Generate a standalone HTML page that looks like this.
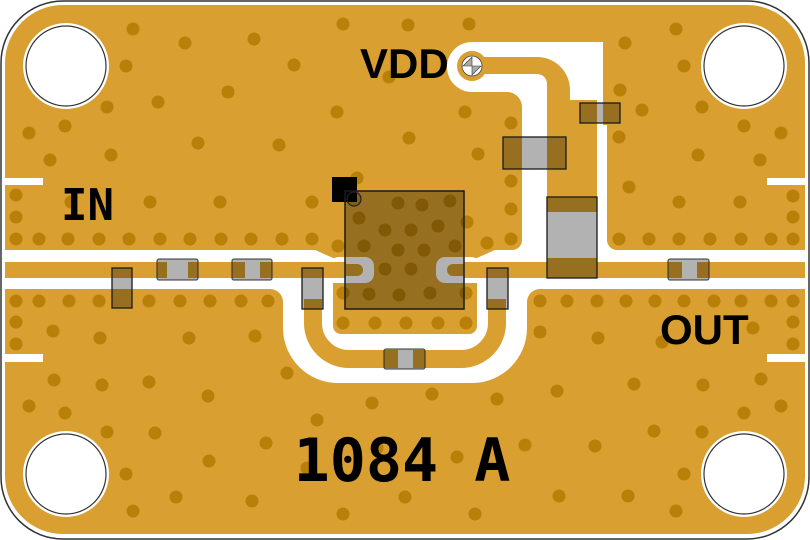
<!DOCTYPE html>
<html><head><meta charset="utf-8"><style>
html,body{margin:0;padding:0;background:#fff;}
svg{display:block;}
</style></head><body>
<svg width="810" height="540" viewBox="0 0 810 540" xmlns="http://www.w3.org/2000/svg">
<rect width="810" height="540" fill="#fff"/>
<!-- copper -->
<rect x="5" y="5" width="800" height="529" rx="58" fill="#D99F30"/>
<!-- band -->
<rect x="0" y="250" width="810" height="39" fill="#fff"/>
<!-- edge notches -->
<rect x="4" y="178" width="39" height="7" fill="#fff"/>
<rect x="4" y="354" width="39" height="8" fill="#fff"/>
<rect x="767" y="178" width="39" height="7" fill="#fff"/>
<rect x="767" y="354" width="39" height="8" fill="#fff"/>
<!-- VDD clearance -->
<path d="M472,42 H603 V125 H607 V240 A10 10 0 0 0 617 250 V252 H512 V250 A10 10 0 0 0 522 240 V107 A15 15 0 0 0 507 92 H472 A25 25 0 0 1 472 42 Z" fill="#fff"/>
<!-- central clearance -->
<path d="M270,278 V289 A13 13 0 0 1 283 302 V328 A55 55 0 0 0 338 383 H472 A55 55 0 0 0 527 328 V302 A13 13 0 0 1 540 289 V278 Z" fill="#fff"/>
<!-- gold near chip -->
<polygon points="306,248 313,249 333,258 477,258 497,249 504,248" fill="#D99F30"/>
<rect x="345" y="255" width="119" height="35" fill="#D99F30"/>
<rect x="333" y="283" width="144" height="51" rx="8" fill="#D99F30"/>
<rect x="333" y="283" width="144" height="20" fill="#D99F30"/>
<!-- pad clearances -->
<rect x="330" y="257" width="44" height="26" rx="9" fill="#fff"/>
<rect x="436" y="257" width="44" height="26" rx="9" fill="#fff"/>
<!-- RF line -->
<rect x="5" y="262" width="341" height="16" fill="#D99F30"/>
<rect x="338" y="264" width="25" height="12" rx="6" fill="#D99F30"/>
<rect x="464" y="262" width="341" height="16" fill="#D99F30"/>
<rect x="447" y="264" width="25" height="12" rx="6" fill="#D99F30"/>
<!-- U trace -->
<path d="M313,299 V323 A36 36 0 0 0 349 359 H461 A36 36 0 0 0 497 323 V299" fill="none" stroke="#D99F30" stroke-width="18"/>
<!-- VDD trace -->
<path d="M472,57 H537 A33 33 0 0 1 570 90 V100 H597 V212 H547 V84 A10 10 0 0 0 537 74 H472 Z" fill="#D99F30"/>
<rect x="547" y="258" width="50" height="20" fill="#D99F30"/>
<circle cx="472" cy="66" r="15" fill="#D99F30"/>
<circle cx="472" cy="66" r="10" fill="#fff" stroke="#444" stroke-width="0.8"/>
<polygon points="463,66 472,57 472,66" fill="#aaa" stroke="#333" stroke-width="0.6"/>
<polygon points="472,66 481,66 472,75" fill="#aaa" stroke="#333" stroke-width="0.6"/>
<!-- series gaps -->
<rect x="167" y="262" width="21" height="16" fill="#fff"/>
<rect x="245" y="262" width="15" height="16" fill="#fff"/>
<rect x="682" y="262" width="15" height="16" fill="#fff"/>
<rect x="398" y="349" width="15" height="20" fill="#fff"/>
<!-- vias -->
<g fill="#B98009">
<circle cx="133" cy="29" r="6.5"/><circle cx="185" cy="43" r="6.5"/><circle cx="254" cy="39" r="6.5"/><circle cx="126" cy="66" r="6.5"/><circle cx="228" cy="92" r="6.5"/><circle cx="158" cy="102" r="6.5"/><circle cx="107" cy="107" r="6.5"/><circle cx="65" cy="126" r="6.5"/><circle cx="29" cy="133" r="6.5"/><circle cx="198" cy="143" r="6.5"/><circle cx="111" cy="155" r="6.5"/><circle cx="50" cy="160" r="6.5"/><circle cx="16" cy="195" r="6.5"/><circle cx="71" cy="202" r="6.5"/><circle cx="150" cy="202" r="6.5"/><circle cx="220" cy="202" r="6.5"/><circle cx="16" cy="217" r="6.5"/>
<circle cx="16" cy="239" r="6.5"/><circle cx="39" cy="239" r="6.5"/><circle cx="68" cy="239" r="6.5"/><circle cx="99" cy="239" r="6.5"/><circle cx="129" cy="239" r="6.5"/><circle cx="160" cy="239" r="6.5"/><circle cx="190" cy="239" r="6.5"/><circle cx="221" cy="239" r="6.5"/><circle cx="251" cy="239" r="6.5"/>
<circle cx="343" cy="24" r="6.5"/><circle cx="408" cy="25" r="6.5"/><circle cx="469" cy="24" r="6.5"/><circle cx="294" cy="65" r="6.5"/><circle cx="389" cy="77" r="6.5"/><circle cx="337" cy="112" r="6.5"/><circle cx="465" cy="112" r="6.5"/><circle cx="409" cy="138" r="6.5"/><circle cx="279" cy="145" r="6.5"/><circle cx="511" cy="123" r="6.5"/><circle cx="478" cy="154" r="6.5"/><circle cx="357" cy="178" r="6.5"/><circle cx="312" cy="202" r="6.5"/><circle cx="511" cy="181" r="6.5"/><circle cx="511" cy="209" r="6.5"/><circle cx="467" cy="222" r="6.5"/><circle cx="282" cy="239" r="6.5"/><circle cx="312" cy="239" r="6.5"/><circle cx="338" cy="246" r="6.5"/><circle cx="487" cy="243" r="6.5"/><circle cx="511" cy="239" r="6.5"/>
<circle cx="398" cy="203" r="6.5"/><circle cx="422" cy="205" r="6.5"/><circle cx="450" cy="201" r="6.5"/><circle cx="359" cy="218" r="6.5"/><circle cx="385" cy="230" r="6.5"/><circle cx="411" cy="230" r="6.5"/><circle cx="438" cy="226" r="6.5"/><circle cx="364" cy="246" r="6.5"/><circle cx="398" cy="250" r="6.5"/><circle cx="424" cy="250" r="6.5"/><circle cx="455" cy="246" r="6.5"/><circle cx="385" cy="269" r="6.5"/><circle cx="411" cy="269" r="6.5"/><circle cx="343" cy="293" r="6.5"/><circle cx="369" cy="294" r="6.5"/><circle cx="399" cy="295" r="6.5"/><circle cx="430" cy="293" r="6.5"/><circle cx="466" cy="293" r="6.5"/>
<circle cx="343" cy="323" r="6.5"/><circle cx="375" cy="323" r="6.5"/><circle cx="406" cy="323" r="6.5"/><circle cx="438" cy="323" r="6.5"/><circle cx="466" cy="323" r="6.5"/>
<circle cx="676" cy="29" r="6.5"/><circle cx="625" cy="43" r="6.5"/><circle cx="684" cy="66" r="6.5"/><circle cx="620" cy="90" r="6.5"/><circle cx="642" cy="110" r="6.5"/><circle cx="702" cy="107" r="6.5"/><circle cx="744" cy="126" r="6.5"/><circle cx="781" cy="133" r="6.5"/><circle cx="619" cy="137" r="6.5"/><circle cx="698" cy="155" r="6.5"/><circle cx="760" cy="160" r="6.5"/><circle cx="629" cy="187" r="6.5"/><circle cx="679" cy="202" r="6.5"/><circle cx="740" cy="202" r="6.5"/><circle cx="793" cy="196" r="6.5"/><circle cx="793" cy="217" r="6.5"/>
<circle cx="619" cy="239" r="6.5"/><circle cx="649" cy="239" r="6.5"/><circle cx="679" cy="239" r="6.5"/><circle cx="710" cy="239" r="6.5"/><circle cx="741" cy="239" r="6.5"/><circle cx="771" cy="239" r="6.5"/><circle cx="793" cy="239" r="6.5"/>
<circle cx="16" cy="301" r="6.5"/><circle cx="39" cy="301" r="6.5"/><circle cx="69" cy="301" r="6.5"/><circle cx="99" cy="301" r="6.5"/><circle cx="149" cy="301" r="6.5"/><circle cx="180" cy="301" r="6.5"/><circle cx="210" cy="301" r="6.5"/><circle cx="241" cy="301" r="6.5"/><circle cx="268" cy="301" r="6.5"/>
<circle cx="16" cy="322" r="6.5"/><circle cx="16" cy="344" r="6.5"/><circle cx="53" cy="331" r="6.5"/><circle cx="100" cy="338" r="6.5"/><circle cx="189" cy="338" r="6.5"/><circle cx="255" cy="336" r="6.5"/><circle cx="54" cy="380" r="6.5"/><circle cx="102" cy="385" r="6.5"/><circle cx="149" cy="382" r="6.5"/><circle cx="208" cy="396" r="6.5"/><circle cx="29" cy="406" r="6.5"/><circle cx="65" cy="413" r="6.5"/><circle cx="107" cy="432" r="6.5"/><circle cx="155" cy="433" r="6.5"/><circle cx="266" cy="443" r="6.5"/><circle cx="209" cy="461" r="6.5"/><circle cx="126" cy="474" r="6.5"/><circle cx="176" cy="497" r="6.5"/><circle cx="252" cy="501" r="6.5"/><circle cx="133" cy="511" r="6.5"/>
<circle cx="287" cy="373" r="6.5"/><circle cx="372" cy="403" r="6.5"/><circle cx="432" cy="394" r="6.5"/><circle cx="497" cy="399" r="6.5"/><circle cx="317" cy="420" r="6.5"/><circle cx="525" cy="445" r="6.5"/><circle cx="377" cy="448" r="6.5"/><circle cx="457" cy="457" r="6.5"/><circle cx="307" cy="468" r="6.5"/><circle cx="405" cy="497" r="6.5"/><circle cx="343" cy="514" r="6.5"/><circle cx="475" cy="514" r="6.5"/>
<circle cx="540" cy="301" r="6.5"/><circle cx="567" cy="301" r="6.5"/><circle cx="597" cy="301" r="6.5"/><circle cx="626" cy="301" r="6.5"/><circle cx="655" cy="301" r="6.5"/><circle cx="684" cy="301" r="6.5"/><circle cx="714" cy="301" r="6.5"/><circle cx="741" cy="301" r="6.5"/><circle cx="771" cy="301" r="6.5"/><circle cx="793" cy="301" r="6.5"/>
<circle cx="793" cy="322" r="6.5"/><circle cx="793" cy="344" r="6.5"/><circle cx="540" cy="332" r="6.5"/><circle cx="598" cy="338" r="6.5"/><circle cx="662" cy="342" r="6.5"/><circle cx="753" cy="328" r="6.5"/><circle cx="557" cy="391" r="6.5"/><circle cx="634" cy="384" r="6.5"/><circle cx="703" cy="385" r="6.5"/><circle cx="761" cy="379" r="6.5"/><circle cx="781" cy="406" r="6.5"/><circle cx="744" cy="413" r="6.5"/><circle cx="654" cy="431" r="6.5"/><circle cx="702" cy="432" r="6.5"/><circle cx="595" cy="446" r="6.5"/><circle cx="684" cy="474" r="6.5"/><circle cx="559" cy="496" r="6.5"/><circle cx="628" cy="496" r="6.5"/><circle cx="676" cy="511" r="6.5"/>
</g>
<!-- holes -->
<g fill="#fff">
<circle cx="66" cy="66" r="43"/><circle cx="744" cy="66" r="43"/><circle cx="66" cy="474" r="43"/><circle cx="744" cy="474" r="43"/>
</g>
<g fill="#fff" stroke="#333" stroke-width="1.2">
<circle cx="66" cy="66" r="40"/><circle cx="744" cy="66" r="40"/><circle cx="66" cy="474" r="40"/><circle cx="744" cy="474" r="40"/>
</g>
<!-- chip -->
<rect x="332" y="177" width="25" height="25" fill="#000"/>
<rect x="345" y="191" width="119" height="118" fill="rgba(0,0,0,0.3)" stroke="#1a1a1a" stroke-width="1.5"/>
<circle cx="354" cy="199" r="7" fill="rgba(0,0,0,0.15)" stroke="#222" stroke-width="1.2"/>
<!-- components -->
<g fill="rgba(0,0,0,0.3)" stroke="rgba(40,40,40,0.75)" stroke-width="1.3">
<rect x="157" y="259" width="41" height="21" rx="2"/>
<rect x="232" y="259" width="40" height="21" rx="2"/>
<rect x="668" y="259" width="41" height="21" rx="2"/>
<rect x="384" y="349" width="41" height="20" rx="2"/>
</g>
<g fill="rgba(0,0,0,0.3)" stroke="#1a1a1a" stroke-width="1.3">
<rect x="112" y="268" width="20" height="40"/>
<rect x="302" y="268" width="21" height="41"/>
<rect x="487" y="268" width="21" height="41"/>
<rect x="503" y="137" width="63" height="32"/>
<rect x="580" y="103" width="40" height="20"/>
<rect x="547" y="197" width="50" height="81"/>
</g>
<!-- outline -->
<rect x="1" y="1" width="808" height="538" rx="62" fill="none" stroke="#333" stroke-width="1.5"/>
<!-- labels -->
<text x="87.5" y="220" text-anchor="middle" font-family="'DejaVu Sans Mono', 'Liberation Mono', monospace" font-weight="bold" font-size="44" fill="#000">IN</text>
<text x="360" y="78" font-family="'Liberation Sans', sans-serif" font-weight="bold" font-size="42" fill="#000">VDD</text>
<text x="660" y="344" font-family="'Liberation Sans', sans-serif" font-weight="bold" font-size="42" fill="#000">OUT</text>
<text x="402" y="481" text-anchor="middle" font-family="'DejaVu Sans Mono', 'Liberation Mono', monospace" font-weight="bold" font-size="60" fill="#000">1084 A</text>
</svg>
</body></html>
